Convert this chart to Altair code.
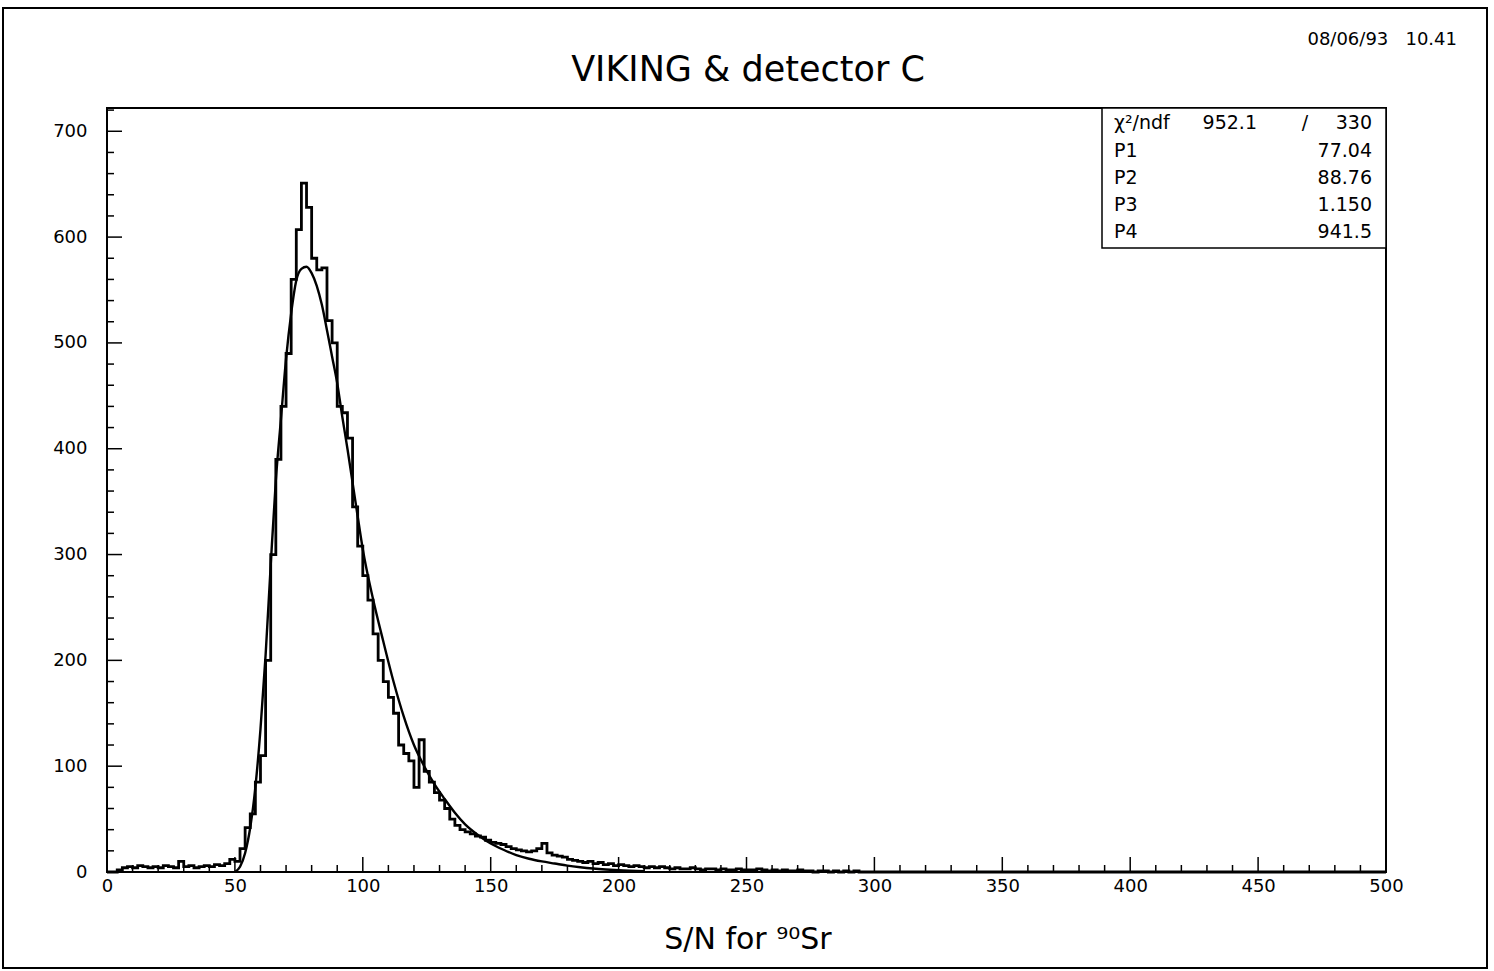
import altair as alt
import pandas as pd

# ---------------- data ----------------
BIN_WIDTH = 2
hist_counts = [
    # 0 - 48
    0, 0, 2, 4, 5, 4, 6, 5, 4, 5, 4, 6, 5, 4, 10, 5, 6, 4, 5, 6, 5, 7, 6, 8, 12,
    # 50 - 98
    10, 22, 42, 55, 85, 110, 200, 300, 390, 440, 490, 560, 607, 651, 628, 580, 569, 571, 521, 500, 440, 434, 410, 345, 308,
    # 100 - 148
    280, 257, 225, 200, 180, 165, 150, 120, 112, 105, 80, 125, 95, 85, 75, 68, 60, 50, 44, 40, 38, 36, 34, 33, 30,
    # 150 - 198
    28, 27, 26, 24, 22, 21, 20, 19, 20, 22, 27, 18, 16, 15, 14, 12, 11, 10, 9, 10, 8, 9, 7, 8, 6,
    # 200 - 248
    7, 6, 5, 6, 5, 4, 5, 4, 5, 4, 3, 4, 3, 3, 4, 3, 2, 3, 3, 2, 3, 2, 2, 3, 2,
    # 250 - 298
    2, 2, 3, 2, 1, 2, 1, 2, 1, 1, 2, 1, 1, 0, 1, 1, 0, 1, 0, 1, 0, 1, 0, 0, 0,
]
hist_edges = [i * BIN_WIDTH for i in range(len(hist_counts))]

fit_x = [50, 52, 54, 56, 58, 60, 62, 64, 66, 68, 70, 72, 74, 76, 78, 80, 82, 84, 86, 88,
         90, 92, 94, 96, 98, 100, 104, 108, 112, 116, 120, 124, 128, 132, 136, 140, 145,
         150, 155, 160, 165, 170, 175, 180, 185, 190, 195, 200, 210]
fit_y = [0, 5, 18, 42, 80, 135, 205, 290, 370, 428, 485, 528, 559, 570, 572, 566, 554, 536, 512, 487,
         462, 430, 400, 368, 336, 305, 258, 218, 180, 147, 120, 100, 83, 69, 56, 45, 35,
         27, 21, 16, 12.5, 10, 8, 6, 4.5, 3.3, 2.4, 1.7, 0.8]

x_major = [0, 50, 100, 150, 200, 250, 300, 350, 400, 450, 500]
x_minor = [v for v in range(0, 501, 10) if v % 50 != 0]
y_major = [0, 100, 200, 300, 400, 500, 600, 700]
y_minor = [v for v in range(0, 721, 20) if v % 100 != 0]

stat_names = ["χ²/ndf", "P1", "P2", "P3", "P4"]
stat_values = ["330", "77.04", "88.76", "1.150", "941.5"]
chi2_value = "952.1"

title_text = "VIKING & detector C"
date_text = "08/06/93\u00a0\u00a0\u00a010.41"
xtitle_text = "S/N for ⁹⁰Sr"

# ---------------- layout ----------------
W, H = 1279, 764
YMAX = 722
FONT = "DejaVu Sans"

hist_df = pd.DataFrame({"x": hist_edges + [hist_edges[-1] + BIN_WIDTH, 500],
                        "y": hist_counts + [0, 0]})
fit_df = pd.DataFrame({"x": fit_x, "y": fit_y})

xs = alt.Scale(domain=[0, 500], nice=False, zero=False)
ys = alt.Scale(domain=[0, YMAX], nice=False)

x_axis = alt.Axis(values=x_major, title=None, ticks=False, domain=False, grid=False,
                  labelFont=FONT, labelFontSize=18, labelColor="black", labelPadding=5,
                  labelFlush=False)
y_axis = alt.Axis(values=y_major, title=None, ticks=False, domain=False, grid=False,
                  labelFont=FONT, labelFontSize=18, labelColor="black", labelPadding=20)

hist = alt.Chart(hist_df).mark_line(interpolate="step-after", color="black", strokeWidth=2.8).encode(
    x=alt.X("x:Q", scale=xs, axis=x_axis),
    y=alt.Y("y:Q", scale=ys, axis=y_axis),
)
fit = alt.Chart(fit_df).mark_line(interpolate="monotone", color="black", strokeWidth=2.4).encode(
    x=alt.X("x:Q", scale=xs),
    y=alt.Y("y:Q", scale=ys),
)

def xticks(vals, length):
    return alt.Chart(pd.DataFrame({"v": vals})).mark_rule(color="black", strokeWidth=1.5).encode(
        x=alt.X("v:Q", scale=xs), y=alt.value(H), y2=alt.value(H - length))

def yticks(vals, length):
    return alt.Chart(pd.DataFrame({"v": vals})).mark_rule(color="black", strokeWidth=1.5).encode(
        y=alt.Y("v:Q", scale=ys), x=alt.value(0), x2=alt.value(length))

frame = alt.Chart(pd.DataFrame({"a": [0]})).mark_rect(fill=None, stroke="black", strokeWidth=2).encode(
    x=alt.value(-104), x2=alt.value(1380), y=alt.value(-100), y2=alt.value(860))

def label(txt, x, y, size, align="center"):
    return alt.Chart(pd.DataFrame({"t": [txt]})).mark_text(
        font=FONT, fontSize=size, align=align, baseline="middle", color="black").encode(
        text="t:N", x=alt.value(x), y=alt.value(y))

title = label(title_text, 641, -38, 35)
date = label(date_text, 1350, -68, 18, align="right")
xtitle = label(xtitle_text, 641, 832, 30)

# stats box
box = alt.Chart(pd.DataFrame({"a": [0]})).mark_rect(fill="white", stroke="black", strokeWidth=1.5).encode(
    x=alt.value(995), x2=alt.value(W), y=alt.value(0), y2=alt.value(140))
row_y = [15, 43, 70, 97, 124]
stat_layers = []
for name, val, ry in zip(stat_names, stat_values, row_y):
    stat_layers.append(label(name, 1007, ry, 19, align="left"))
    stat_layers.append(label(val, 1265, ry, 19, align="right"))
chi_mid = label(chi2_value, 1150, row_y[0], 19, align="right")
slash = label("/", 1198, row_y[0], 19)

chart = alt.layer(
    frame, hist, fit,
    xticks(x_major, 15), xticks(x_minor, 7), yticks(y_major, 15), yticks(y_minor, 7),
    box, *stat_layers, chi_mid, slash,
    title, date, xtitle,
).properties(
    width=W, height=H,
    autosize=alt.AutoSizeParams(type="none"),
    padding={"left": 107, "top": 108, "right": 108, "bottom": 99},
    background="white",
).configure_view(stroke="black", strokeWidth=2)

chart.save("out.html", embed_options={"renderer": "svg", "actions": False})
